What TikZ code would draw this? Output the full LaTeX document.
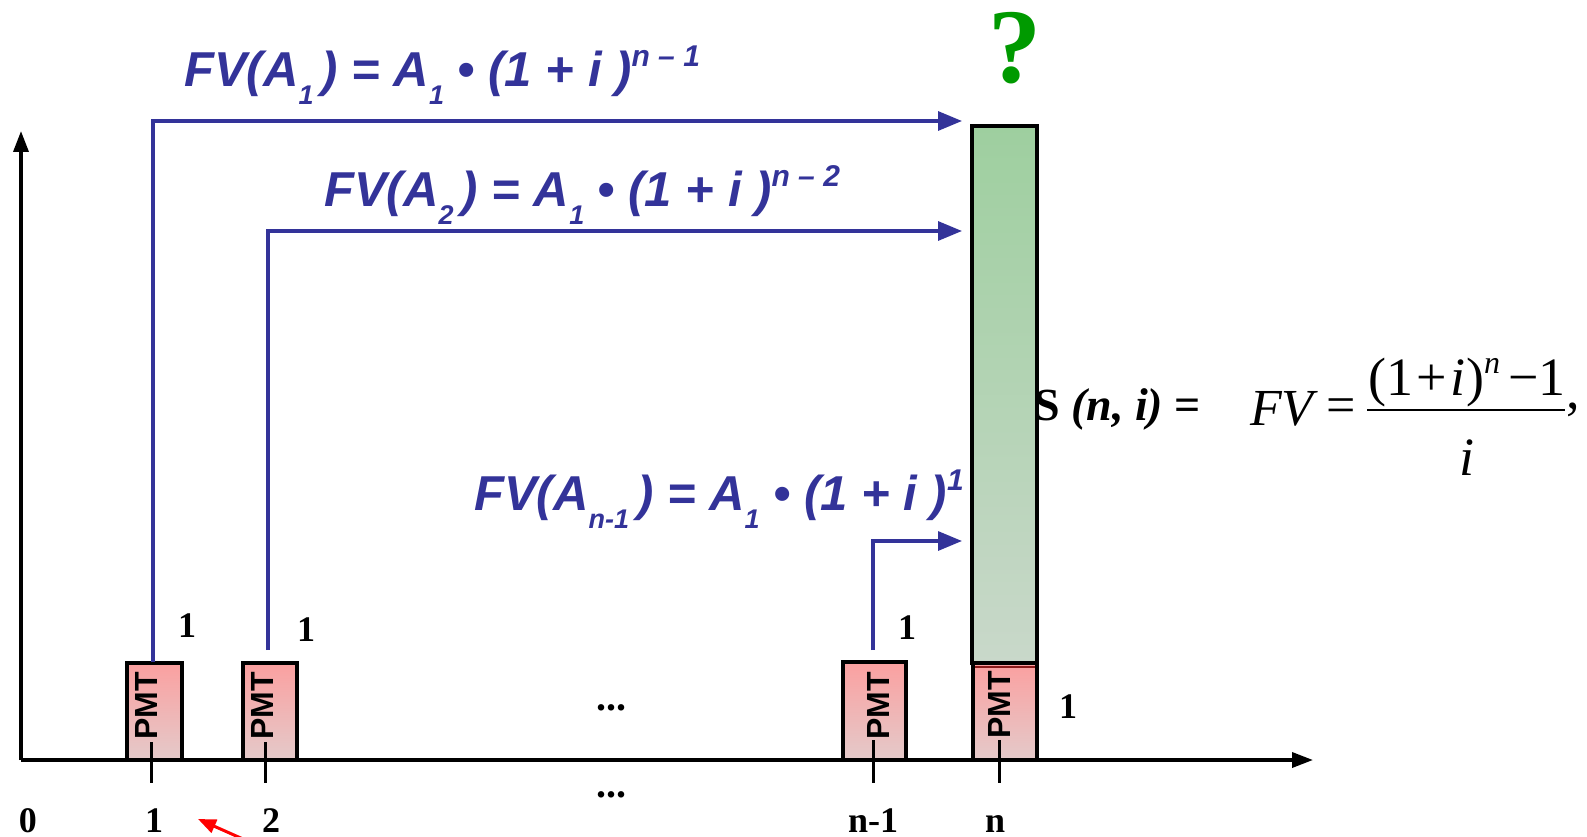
\documentclass[tikz,border=0pt]{standalone}
\usepackage{fontspec}
\setmainfont{Liberation Serif}
\newfontfamily\sansf{Liberation Sans}
\usetikzlibrary{arrows.meta}
\definecolor{fvblue}{HTML}{333399}
\definecolor{qgreen}{HTML}{009A00}
\definecolor{pmttop}{HTML}{FBA0A0}
\definecolor{pmtbot}{HTML}{E4CACA}
\definecolor{bartop}{HTML}{9ECF9F}
\definecolor{barbot}{HTML}{C9D8CA}
\definecolor{darkred}{HTML}{8B1A1A}
\newcommand\fvsub[1]{\raisebox{-18pt}{\fontsize{27}{27}\selectfont #1}}
\newcommand\fvsup[1]{\raisebox{20pt}{\fontsize{30}{30}\selectfont #1}}
\tikzset{
  axis/.style={line width=3.5pt, -{Triangle[length=21pt,width=15pt]}},
  flow/.style={draw=fvblue, line width=3.2pt, -{Triangle[length=24pt,width=19pt]}},
  tick/.style={line width=3pt},
  pmtbox/.style={draw, line width=3.5pt, top color=pmttop, bottom color=pmtbot, inner sep=0pt},
  pmttext/.style={rotate=90, font=\sansf\bfseries\fontsize{32}{32}\selectfont, inner sep=0pt},
  fvtext/.style={font=\sansf\bfseries\itshape\fontsize{49}{50}\selectfont, text=fvblue, inner sep=0pt, anchor=base west},
  numlabel/.style={font=\bfseries\fontsize{36}{40}\selectfont, anchor=base, inner sep=0pt},
  dots/.style={font=\bfseries\fontsize{40}{40}\selectfont, anchor=base, inner sep=0pt},
  mtext/.style={font=\fontsize{54}{60}\selectfont, inner sep=0pt},
}
\begin{document}
\begin{tikzpicture}[x=1pt,y=-1pt]
\useasboundingbox (0,0) rectangle (1587,837);
% axes
\coordinate (O) at (21,760);
\coordinate (yend) at (21,131);
\coordinate (xend) at (1313,760);
\draw[axis] (O) -- (yend);
\draw[axis] (O) -- (xend);
% green bar
\node[draw, line width=3.5pt, top color=bartop, bottom color=barbot, inner sep=0pt,
      minimum width=65pt, minimum height=537pt] (bar) at (1004.5,394.5) {};
% PMT boxes
\node[pmtbox, minimum width=55pt, minimum height=97pt] (b1) at (154.5,711.5) {};
\node[pmtbox, minimum width=54pt, minimum height=97pt] (b2) at (270,711.5) {};
\node[pmtbox, minimum width=63pt, minimum height=98pt] (b3) at (874.5,711) {};
\node[pmtbox, minimum width=64pt, minimum height=97pt] (b4) at (1005,711.5) {};
\coordinate (dl0) at (975,667);
\coordinate (dl1) at (1035,667);
\draw[darkred, line width=2pt] (dl0) -- (dl1);
\node[pmttext] (p1) at (146,706) {PMT};
\node[pmttext] (p2) at (262,706) {PMT};
\node[pmttext] (p3) at (878,706) {PMT};
\node[pmttext] (p4) at (999,705) {PMT};
% ticks
\coordinate (t1a) at (151,742); \coordinate (t1b) at (151,783);
\coordinate (t2a) at (265,742); \coordinate (t2b) at (265,783);
\coordinate (t3a) at (873,740); \coordinate (t3b) at (873,783);
\coordinate (t4a) at (999,740); \coordinate (t4b) at (999,783);
\draw[tick] (t1a) -- (t1b);
\draw[tick] (t2a) -- (t2b);
\draw[tick] (t3a) -- (t3b);
\draw[tick] (t4a) -- (t4b);
% blue flows
\coordinate (s1) at (153,662); \coordinate (e1) at (962,121);
\coordinate (s2) at (268,650); \coordinate (e2) at (962,231);
\coordinate (s3) at (873,650); \coordinate (e3) at (962,541);
\draw[flow] (s1) |- (e1);
\draw[flow] (s2) |- (e2);
\draw[flow] (s3) |- (e3);
% formulas
\node[fvtext] (f1) at (184,87) {FV(A\fvsub{1}\,) = A\fvsub{1} • (1 + i )\fvsup{n – 1}};
\node[fvtext] (f2) at (324,207) {FV(A\fvsub{2}\,) = A\fvsub{1} • (1 + i )\fvsup{n – 2}};
\node[fvtext] (f3) at (474,510) {FV(A\fvsub{n-1}\,) = A\fvsub{1} • (1 + i )\fvsup{1}};
% question mark
\node[font=\bfseries\fontsize{106}{106}\selectfont, text=qgreen, anchor=base, inner sep=0pt] (q) at (1015,83) {?};
% small labels
\node[numlabel] (l1) at (187,637) {1};
\node[numlabel] (l2) at (306,641) {1};
\node[numlabel] (l3) at (907,639) {1};
\node[numlabel] (l4) at (1068,718) {1};
\node[numlabel] (x0) at (28,832) {0};
\node[numlabel] (x1) at (154,832) {1};
\node[numlabel] (x2) at (271,832) {2};
\node[numlabel] (x3) at (873,832) {n-1};
\node[numlabel] (x4) at (995,832) {n};
\node[dots] (d1) at (611,710) {...};
\node[dots] (d2) at (611,797) {...};
% red arrow
\coordinate (r0) at (252,843);
\coordinate (r1) at (198,819);
\draw[red, line width=3pt, -{Triangle[length=18pt,width=14pt]}] (r0) -- (r1);
% S formula
\node[font=\bfseries\fontsize{46}{50}\selectfont, anchor=base west, inner sep=0pt] (S) at (1034,420) {S \textit{(n, i)} =};
\node[font=\itshape\fontsize{52}{56}\selectfont, anchor=base west, inner sep=0pt] (fv) at (1250,425) {FV};
\node[font=\fontsize{52}{56}\selectfont, inner sep=0pt] (eq) at (1341,411) {=};
\coordinate (fb0) at (1367,410);
\coordinate (fb1) at (1565,410);
\draw[line width=2pt] (fb0) -- (fb1);
\node[mtext, anchor=base] (num) at (1467,395) {(1\hspace{3pt}+\hspace{3pt}\textit{i}\hspace{1pt})\raisebox{22pt}{\fontsize{32}{32}\selectfont\textit{n}}\hspace{8pt}−1};
\node[mtext, anchor=base] (den) at (1467,475) {\textit{i}};
\node[mtext, anchor=base west] (comma) at (1566,408) {,};
\end{tikzpicture}
\end{document}
